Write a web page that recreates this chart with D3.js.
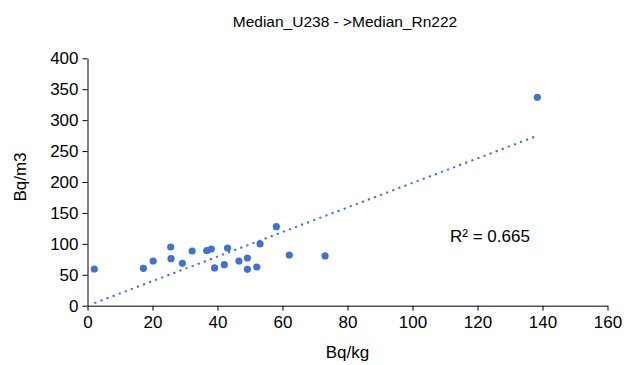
<!DOCTYPE html>
<html>
<head>
<meta charset="utf-8">
<script src="https://cdn.jsdelivr.net/npm/d3@7"></script>
<style>
  body { margin: 0; background: #fff; }
  text { font-family: "Liberation Sans", Arial, Helvetica, sans-serif; fill: #000; }
</style>
</head>
<body>
<script>
// values
var u238 = [2.1, 17.2, 20.2, 25.6, 25.7, 29.2, 32.2, 36.7, 38.1, 39.1, 42.1,
            43.1, 46.6, 49.2, 49.2, 52.1, 53.1, 58.1, 62.1, 73.1, 138.4];
var rn222 = [59.3, 60.4, 72.3, 94.9, 76, 68.5, 88.4, 89, 91.7, 61, 66.3,
             93.3, 72.3, 77.1, 58.8, 62.6, 99.8, 127.7, 82, 80.4, 337];
var xTicks = [0, 20, 40, 60, 80, 100, 120, 140, 160];
var yTicks = [0, 50, 100, 150, 200, 250, 300, 350, 400];
var chartTitle = "Median_U238 - >Median_Rn222";
var xTitle = "Bq/kg";
var yTitle = "Bq/m3";
var r2Label = "R\u00b2 = 0.665";

var svgWidth = 624;
var svgHeight = 365;
var chartMargin = { top: 58.3, right: 16.5, bottom: 59.3, left: 87.5 };
var chartWidth = svgWidth - chartMargin.left - chartMargin.right;
var chartHeight = svgHeight - chartMargin.top - chartMargin.bottom;
var blue = "#4472C4";

var svg = d3.select("body")
    .append("svg")
    .attr("width", svgWidth)
    .attr("height", svgHeight);

var chart = svg.append("g")
    .attr("transform", "translate(" + chartMargin.left + ", " + chartMargin.top + ")");

var xScale = d3.scaleLinear().domain([0, 160]).range([0, chartWidth]);
var yScale = d3.scaleLinear().domain([0, 400]).range([chartHeight, 0]);

var points = u238.map(function(x, i) { return { x: x, y: rn222[i] }; });

// trendline fitted through the origin (intercept set to 0)
var slope = d3.sum(points, d => d.x * d.y) / d3.sum(points, d => d.x * d.x);
var xExt = d3.extent(u238);

// axes
var bottomAxis = d3.axisBottom(xScale).tickValues(xTicks).tickSize(5).tickSizeOuter(0).tickPadding(5);
var leftAxis = d3.axisLeft(yScale).tickValues(yTicks).tickSize(5).tickSizeOuter(0).tickPadding(4);

var xAxis = chart.append("g")
    .attr("transform", "translate(0, " + chartHeight + ")")
    .call(bottomAxis);
var yAxis = chart.append("g").call(leftAxis);

[xAxis, yAxis].forEach(function(ax) {
    ax.select(".domain").attr("stroke", "#000");
    ax.selectAll(".tick line").attr("stroke", "#000");
    ax.selectAll(".tick text")
        .style("font-size", "17px")
        .style("font-family", "'Liberation Sans', Arial, Helvetica, sans-serif")
        .attr("fill", "#000");
});

// trendline
chart.append("line")
    .attr("x1", xScale(xExt[0]))
    .attr("y1", yScale(slope * xExt[0]))
    .attr("x2", xScale(xExt[1]))
    .attr("y2", yScale(slope * xExt[1]))
    .attr("stroke", blue)
    .attr("stroke-width", 2)
    .attr("stroke-dasharray", "2.2,4.3");

// points
chart.selectAll("circle")
    .data(points)
    .enter()
    .append("circle")
    .attr("cx", d => xScale(d.x))
    .attr("cy", d => yScale(d.y))
    .attr("r", 3.6)
    .attr("fill", blue);

// texts
svg.append("text")
    .attr("x", 345)
    .attr("y", 27)
    .attr("text-anchor", "middle")
    .style("font-size", "15.5px")
    .text(chartTitle);

svg.append("text")
    .attr("x", chartMargin.left + chartWidth / 2)
    .attr("y", 358)
    .attr("text-anchor", "middle")
    .style("font-size", "17px")
    .text(xTitle);

svg.append("g")
    .attr("transform", "translate(26, 177)")
    .append("text")
    .attr("transform", "rotate(-90)")
    .attr("text-anchor", "middle")
    .style("font-size", "17px")
    .text(yTitle);

svg.append("text")
    .attr("x", 450)
    .attr("y", 242)
    .style("font-size", "17px")
    .text(r2Label);
</script>
</body>
</html>
